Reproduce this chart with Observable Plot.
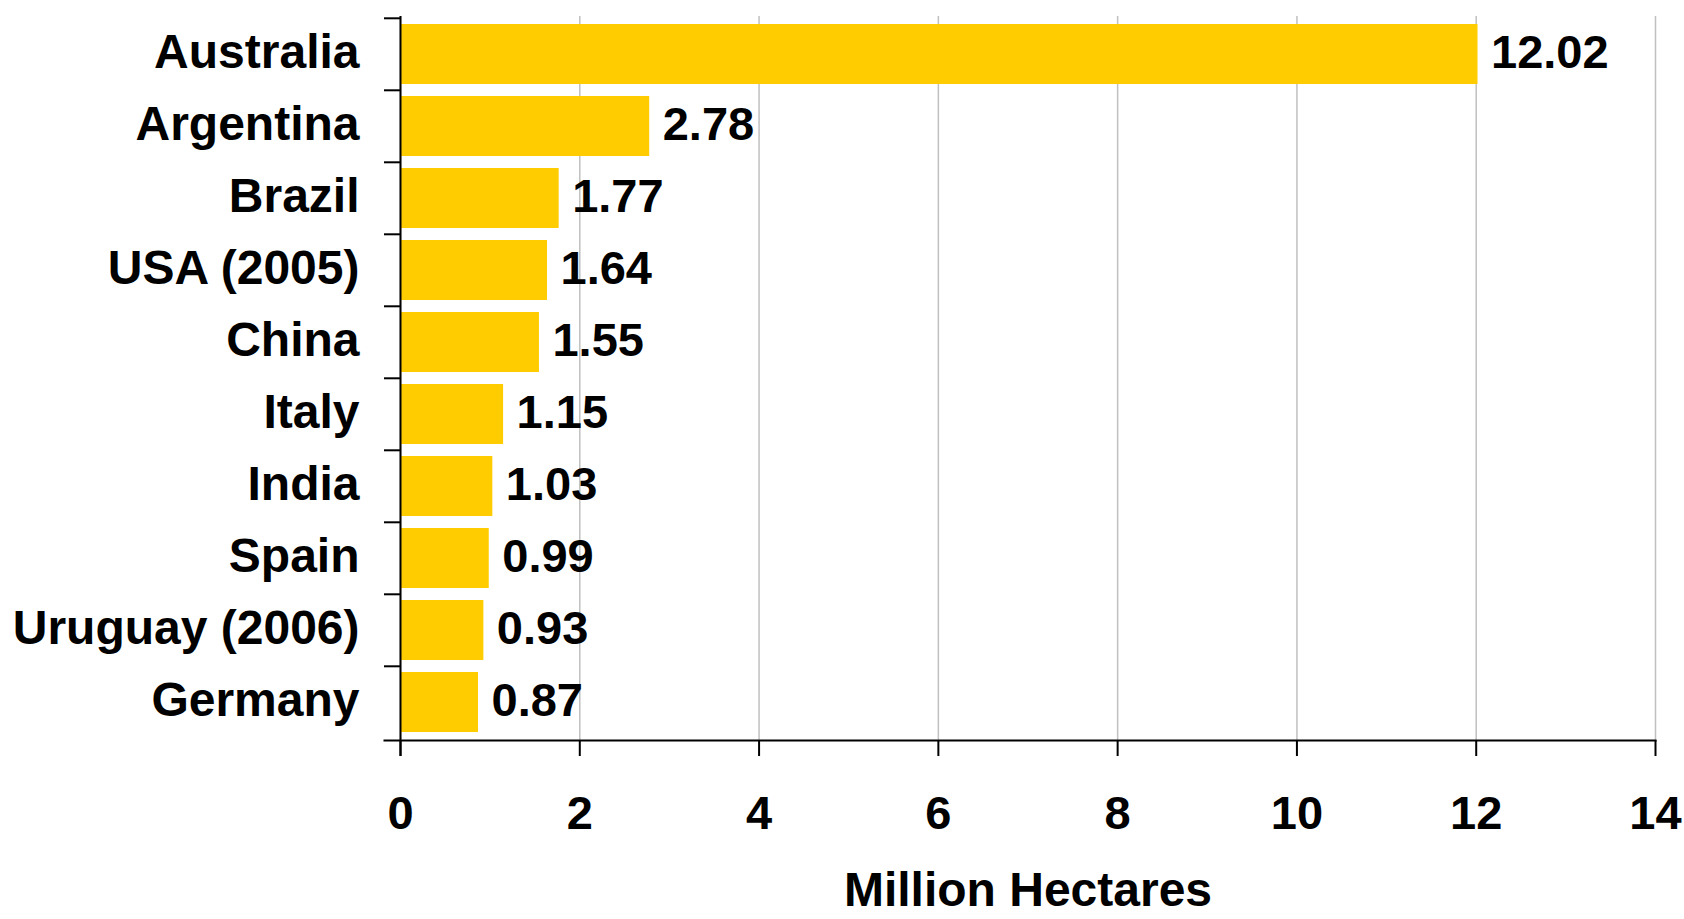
<!DOCTYPE html>
<html><head><meta charset="utf-8">
<script src="https://cdn.jsdelivr.net/npm/d3@7"></script>
<script src="https://cdn.jsdelivr.net/npm/@observablehq/plot@0.6"></script>
<style>body{margin:0;background:#fff} svg{display:block}</style>
</head><body><div id="chart"></div>
<script>
const countries = ["Australia","Argentina","Brazil","USA (2005)","China","Italy","India","Spain","Uruguay (2006)","Germany"];
const hectares = [12.02, 2.78, 1.77, 1.64, 1.55, 1.15, 1.03, 0.99, 0.93, 0.87];
const xTicks = [0, 2, 4, 6, 8, 10, 12, 14];
const xLabel = "Million Hectares";

const data = countries.map((c, i) => ({country: c, value: hectares[i]}));
const W = 1684, H = 919;
const mTop = 16, mBottom = 179;
const step = (H - mTop - mBottom) / countries.length;

const chart = Plot.plot({
  width: W, height: H,
  marginLeft: 400, marginRight: 29, marginTop: mTop, marginBottom: mBottom,
  style: {fontFamily: "'Liberation Sans', Arial, sans-serif", fontWeight: "bold", background: "#fff", color: "#000"},
  x: {domain: [0, 14], ticks: xTicks},
  y: {domain: countries, paddingInner: 0.16, paddingOuter: 0.08},
  marks: [
    Plot.gridX(xTicks, {stroke: "#c0c0c0", strokeOpacity: 1, strokeWidth: 1.5}),
    Plot.barX(data, {x: "value", y: "country", fill: "#FFCC00"}),
    Plot.text(data, {x: "value", y: "country", text: d => d.value.toFixed(2), textAnchor: "start", dx: 13, dy: -2, fontSize: 47, fontWeight: "bold", fill: "#000"}),
    Plot.axisY({tickSize: 0, tickPadding: 41, fontSize: 48, fontWeight: "bold", label: null, dy: -2}),
    Plot.axisY({tickSize: 16, tickFormat: () => "", dy: -step / 2, label: null, strokeWidth: 2}),
    Plot.ruleX([0], {stroke: "#000", strokeWidth: 2, insetBottom: -16}),
    Plot.frame({anchor: "bottom", stroke: "#000", strokeWidth: 2, insetLeft: -16}),
    Plot.axisX({ticks: xTicks, tickSize: 16, tickPadding: 39, fontSize: 47, fontWeight: "bold", strokeWidth: 2,
      tickFormat: d => String(d), label: null}),
    Plot.axisX({ticks: xTicks, tickSize: 0, tickFormat: () => "", fontSize: 48, fontWeight: "bold",
      label: xLabel, labelAnchor: "center", labelArrow: "none", labelOffset: 165})
  ]
});
document.getElementById("chart").appendChild(chart);
</script>
</body></html>
